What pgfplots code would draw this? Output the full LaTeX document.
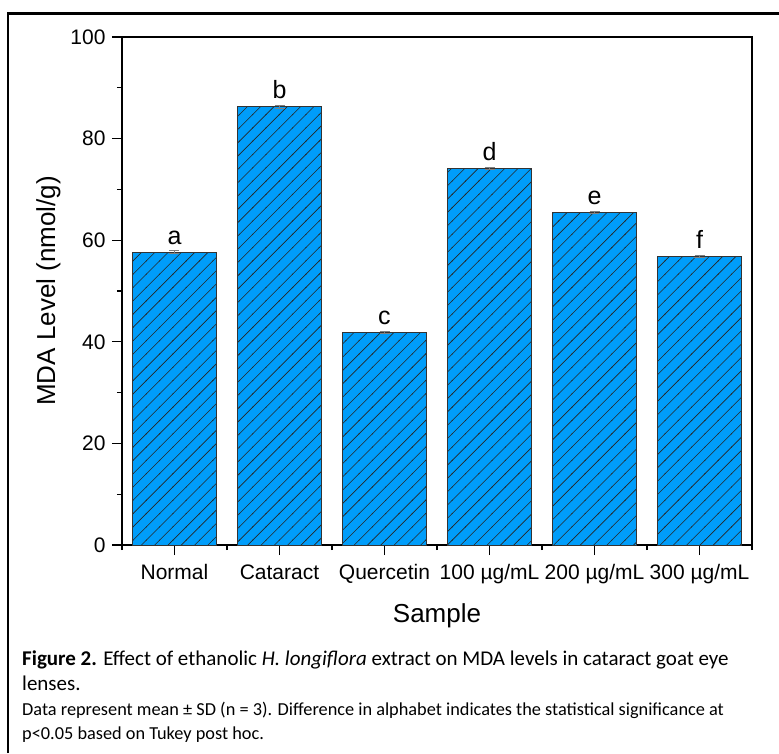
\documentclass[border=0pt]{standalone}
\usepackage{pgfplots}
\pgfplotsset{compat=1.18}
\usepackage{pgfplotstable}
\usepackage{fontspec}
\setmainfont{Liberation Sans}
\newfontfamily\capfont{Carlito}
\usetikzlibrary{patterns}
\definecolor{barblue}{RGB}{0,157,250}
\pgfdeclarepatternformonly{hatch}{\pgfqpoint{-1pt}{-1pt}}{\pgfqpoint{14.3pt}{14.3pt}}{\pgfqpoint{13.3pt}{13.3pt}}{%
  \pgfsetlinewidth{0.6pt}%
  \pgfpathmoveto{\pgfqpoint{-0.5pt}{-0.5pt}}%
  \pgfpathlineto{\pgfqpoint{13.8pt}{13.8pt}}%
  \pgfusepath{stroke}}

\pgfplotstableread{
x y err lab
0 57.6 0.3 a
1 86.3 0.3 b
2 41.8 0.2 c
3 74.1 0.2 d
4 65.4 0.2 e
5 56.8 0.2 f
}\datatable

\begin{document}
\begin{tikzpicture}
\path[use as bounding box] (0,0) rectangle (779pt,753pt);
\draw[line width=2.2pt] (8pt,0) -- (8pt,739.5pt) -- (779pt,739.5pt);
\begin{axis}[
  at={(122pt,208pt)}, anchor=south west,
  scale only axis, width=630pt, height=508pt,
  xmin=-0.5, xmax=5.5, ymin=0, ymax=100,
  xtick={0,...,5},
  xticklabels={Normal,Cataract,Quercetin,100 µg/mL,200 µg/mL,300 µg/mL},
  minor xtick={-0.5,0.5,...,5.5},
  ytick={0,20,...,100}, minor ytick={10,30,...,90},
  tick pos=left, tick align=outside,
  major tick length=10pt, minor tick length=5pt,
  every tick/.style={black, line width=1.3pt},
  axis line style={line width=1.6pt},
  tick label style={font=\fontsize{21}{24}\selectfont},
  xticklabel style={yshift=-6pt},
  yticklabel style={xshift=-3pt},
  /pgf/number format/assume math mode=true,
  xlabel={Sample}, ylabel={MDA Level (nmol/g)},
  label style={font=\fontsize{26}{30}\selectfont},
  xlabel style={yshift=-13pt},
  ylabel style={yshift=3pt},
  clip=false,
]
\addplot[ybar, bar width=84pt, fill=barblue, draw=black!80, line width=1pt,
  postaction={pattern=hatch, pattern color=black!85}]
  table[x=x, y=y] {\datatable};
\addplot[draw=none, mark=none, forget plot,
  error bars/.cd, y dir=both, y explicit,
  error bar style={draw=gray, line width=1pt},
  error mark options={draw=gray, rotate=90, mark size=5pt, line width=1pt}]
  table[x=x, y=y, y error=err] {\datatable};
\addplot[draw=none, mark=none, forget plot,
  nodes near coords, point meta=explicit symbolic,
  nodes near coords style={anchor=south, black, yshift=4pt, font=\fontsize{25}{28}\selectfont}]
  table[x=x, y=y, meta=lab] {\datatable};
\end{axis}
\node[anchor=base west, inner sep=0] at (22pt,88pt) {\capfont\fontsize{21}{24}\selectfont \textbf{Figure 2.} Effect of ethanolic \textit{H. longiflora} extract on MDA levels in cataract goat eye};
\node[anchor=base west, inner sep=0] at (22pt,63pt) {\capfont\fontsize{21}{24}\selectfont lenses.};
\node[anchor=base west, inner sep=0] at (22pt,38pt) {\capfont\fontsize{18.3}{20}\selectfont Data represent mean ± SD (n = 3). Difference in alphabet indicates the statistical significance at};
\node[anchor=base west, inner sep=0] at (22pt,14pt) {\capfont\fontsize{18.3}{20}\selectfont p<0.05 based on Tukey post hoc.};
\end{tikzpicture}
\end{document}
